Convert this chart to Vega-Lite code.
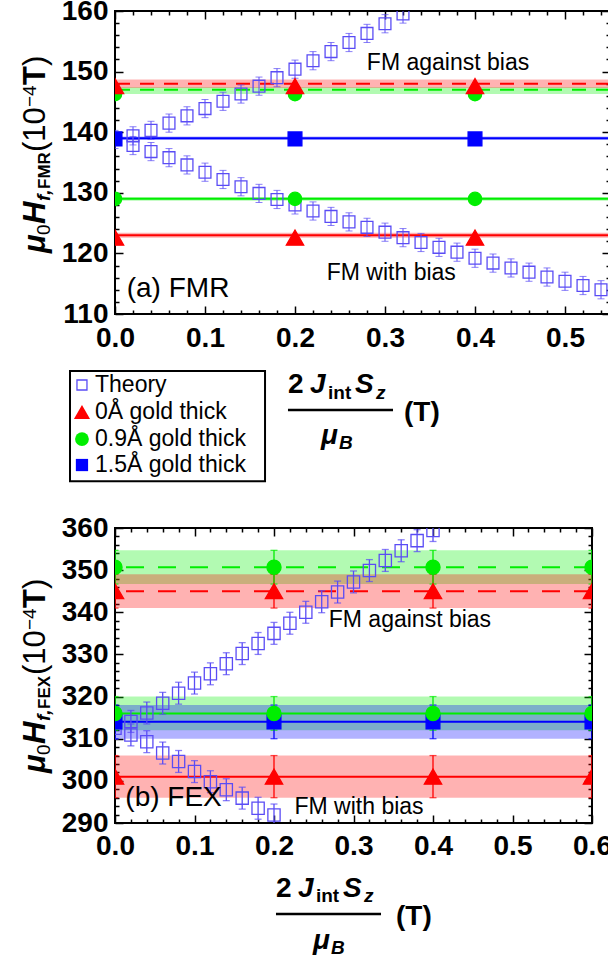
{
  "$schema": "https://vega.github.io/schema/vega-lite/v6.json",
  "padding": {"left": 18, "top": -4, "right": 0, "bottom": 0},
  "background": "white",
  "spacing": 214,
  "bounds": "flush",
  "config": {
    "view": {"stroke": "black", "strokeWidth": 2},
    "font": "Liberation Sans",
    "axis": {"domain": false, "grid": false, "tickColor": "black", "tickWidth": 1.5, "labelColor": "black", "labelFont": "Liberation Sans", "labelFontSize": 28, "labelFontWeight": "bold", "labelOverlap": false, "labelFlush": false, "labelBound": false},
    "text": {"color": "black", "font": "Liberation Sans"}
  },
  "datasets": {
    "levA": [
      {"series": "0.9Å gold thick", "kind": "against", "y": 147.0, "lo": 146.3, "hi": 147.4},
      {"series": "0Å gold thick", "kind": "against", "y": 148.0, "lo": 147.3, "hi": 148.7},
      {"series": "1.5Å gold thick", "kind": "with", "y": 139.0, "lo": 138.7, "hi": 139.3},
      {"series": "0.9Å gold thick", "kind": "with", "y": 129.0, "lo": 128.7, "hi": 129.3},
      {"series": "0Å gold thick", "kind": "with", "y": 123.0, "lo": 122.6, "hi": 123.4}
    ],
    "levB": [
      {"series": "0.9Å gold thick", "kind": "against", "y": 350.7, "lo": 346.7, "hi": 354.7},
      {"series": "0Å gold thick", "kind": "against", "y": 345.0, "lo": 341.0, "hi": 349.0},
      {"series": "0.9Å gold thick", "kind": "with", "y": 316.0, "lo": 312.0, "hi": 320.0},
      {"series": "1.5Å gold thick", "kind": "with", "y": 314.0, "lo": 310.0, "hi": 318.0},
      {"series": "0Å gold thick", "kind": "with", "y": 301.0, "lo": 296.0, "hi": 306.0}
    ],
    "ptsA": [
      {"series": "Theory", "x": 0, "y": 138.8, "err": 1.5},
      {"series": "Theory", "x": 0.02, "y": 139.4, "err": 1.5},
      {"series": "Theory", "x": 0.04, "y": 140.3, "err": 1.5},
      {"series": "Theory", "x": 0.06, "y": 141.5, "err": 1.5},
      {"series": "Theory", "x": 0.08, "y": 142.7, "err": 1.5},
      {"series": "Theory", "x": 0.1, "y": 143.9, "err": 1.5},
      {"series": "Theory", "x": 0.12, "y": 145.1, "err": 1.5},
      {"series": "Theory", "x": 0.14, "y": 146.3, "err": 1.5},
      {"series": "Theory", "x": 0.16, "y": 147.6, "err": 1.5},
      {"series": "Theory", "x": 0.18, "y": 149.0, "err": 1.5},
      {"series": "Theory", "x": 0.2, "y": 150.4, "err": 1.5},
      {"series": "Theory", "x": 0.22, "y": 151.8, "err": 1.5},
      {"series": "Theory", "x": 0.24, "y": 153.3, "err": 1.5},
      {"series": "Theory", "x": 0.26, "y": 154.8, "err": 1.5},
      {"series": "Theory", "x": 0.28, "y": 156.3, "err": 1.5},
      {"series": "Theory", "x": 0.3, "y": 157.9, "err": 1.5},
      {"series": "Theory", "x": 0.32, "y": 159.5, "err": 1.5},
      {"series": "Theory", "x": 0.02, "y": 137.8, "err": 1.5},
      {"series": "Theory", "x": 0.04, "y": 136.8, "err": 1.5},
      {"series": "Theory", "x": 0.06, "y": 135.8, "err": 1.5},
      {"series": "Theory", "x": 0.08, "y": 134.6, "err": 1.5},
      {"series": "Theory", "x": 0.1, "y": 133.4, "err": 1.5},
      {"series": "Theory", "x": 0.12, "y": 132.2, "err": 1.5},
      {"series": "Theory", "x": 0.14, "y": 131.0, "err": 1.5},
      {"series": "Theory", "x": 0.16, "y": 129.9, "err": 1.5},
      {"series": "Theory", "x": 0.18, "y": 128.9, "err": 1.5},
      {"series": "Theory", "x": 0.2, "y": 128.0, "err": 1.5},
      {"series": "Theory", "x": 0.22, "y": 127.0, "err": 1.5},
      {"series": "Theory", "x": 0.24, "y": 126.1, "err": 1.5},
      {"series": "Theory", "x": 0.26, "y": 125.2, "err": 1.5},
      {"series": "Theory", "x": 0.28, "y": 124.3, "err": 1.5},
      {"series": "Theory", "x": 0.3, "y": 123.5, "err": 1.5},
      {"series": "Theory", "x": 0.32, "y": 122.6, "err": 1.5},
      {"series": "Theory", "x": 0.34, "y": 121.8, "err": 1.5},
      {"series": "Theory", "x": 0.36, "y": 121.0, "err": 1.5},
      {"series": "Theory", "x": 0.38, "y": 120.2, "err": 1.5},
      {"series": "Theory", "x": 0.4, "y": 119.2, "err": 1.5},
      {"series": "Theory", "x": 0.42, "y": 118.4, "err": 1.5},
      {"series": "Theory", "x": 0.44, "y": 117.6, "err": 1.5},
      {"series": "Theory", "x": 0.46, "y": 116.9, "err": 1.5},
      {"series": "Theory", "x": 0.48, "y": 116.1, "err": 1.5},
      {"series": "Theory", "x": 0.5, "y": 115.4, "err": 1.5},
      {"series": "Theory", "x": 0.52, "y": 114.7, "err": 1.5},
      {"series": "Theory", "x": 0.54, "y": 114.0, "err": 1.5},
      {"series": "1.5Å gold thick", "x": 0, "y": 138.9, "err": 0},
      {"series": "1.5Å gold thick", "x": 0.2, "y": 138.9, "err": 0},
      {"series": "1.5Å gold thick", "x": 0.4, "y": 138.9, "err": 0},
      {"series": "0.9Å gold thick", "x": 0, "y": 146.3, "err": 0},
      {"series": "0.9Å gold thick", "x": 0.2, "y": 146.3, "err": 0},
      {"series": "0.9Å gold thick", "x": 0.4, "y": 146.3, "err": 0},
      {"series": "0.9Å gold thick", "x": 0, "y": 129.0, "err": 0},
      {"series": "0.9Å gold thick", "x": 0.2, "y": 129.0, "err": 0},
      {"series": "0.9Å gold thick", "x": 0.4, "y": 129.0, "err": 0},
      {"series": "0Å gold thick", "x": 0, "y": 147.6, "err": 0},
      {"series": "0Å gold thick", "x": 0.2, "y": 147.6, "err": 0},
      {"series": "0Å gold thick", "x": 0.4, "y": 147.6, "err": 0},
      {"series": "0Å gold thick", "x": 0, "y": 122.6, "err": 0},
      {"series": "0Å gold thick", "x": 0.2, "y": 122.6, "err": 0},
      {"series": "0Å gold thick", "x": 0.4, "y": 122.6, "err": 0}
    ],
    "ptsB": [
      {"series": "Theory", "x": 0, "y": 312.5, "err": 2.6},
      {"series": "Theory", "x": 0.02, "y": 314.1, "err": 2.6},
      {"series": "Theory", "x": 0.04, "y": 316.1, "err": 2.6},
      {"series": "Theory", "x": 0.06, "y": 318.4, "err": 2.6},
      {"series": "Theory", "x": 0.08, "y": 320.8, "err": 2.6},
      {"series": "Theory", "x": 0.1, "y": 323.2, "err": 2.6},
      {"series": "Theory", "x": 0.12, "y": 325.4, "err": 2.6},
      {"series": "Theory", "x": 0.14, "y": 327.8, "err": 2.6},
      {"series": "Theory", "x": 0.16, "y": 330.2, "err": 2.6},
      {"series": "Theory", "x": 0.18, "y": 332.6, "err": 2.6},
      {"series": "Theory", "x": 0.2, "y": 335.0, "err": 2.6},
      {"series": "Theory", "x": 0.22, "y": 337.4, "err": 2.6},
      {"series": "Theory", "x": 0.24, "y": 340.0, "err": 2.6},
      {"series": "Theory", "x": 0.26, "y": 342.5, "err": 2.6},
      {"series": "Theory", "x": 0.28, "y": 344.8, "err": 2.6},
      {"series": "Theory", "x": 0.3, "y": 347.2, "err": 2.6},
      {"series": "Theory", "x": 0.32, "y": 349.9, "err": 2.6},
      {"series": "Theory", "x": 0.34, "y": 352.3, "err": 2.6},
      {"series": "Theory", "x": 0.36, "y": 354.6, "err": 2.6},
      {"series": "Theory", "x": 0.38, "y": 357.0, "err": 2.6},
      {"series": "Theory", "x": 0.4, "y": 359.4, "err": 2.6},
      {"series": "Theory", "x": 0.02, "y": 310.9, "err": 2.6},
      {"series": "Theory", "x": 0.04, "y": 309.3, "err": 2.6},
      {"series": "Theory", "x": 0.06, "y": 306.6, "err": 2.6},
      {"series": "Theory", "x": 0.08, "y": 304.6, "err": 2.6},
      {"series": "Theory", "x": 0.1, "y": 302.2, "err": 2.6},
      {"series": "Theory", "x": 0.12, "y": 299.8, "err": 2.6},
      {"series": "Theory", "x": 0.14, "y": 297.9, "err": 2.6},
      {"series": "Theory", "x": 0.16, "y": 295.9, "err": 2.6},
      {"series": "Theory", "x": 0.18, "y": 293.5, "err": 2.6},
      {"series": "Theory", "x": 0.2, "y": 291.9, "err": 2.6},
      {"series": "1.5Å gold thick", "x": 0, "y": 314.0, "err": 4},
      {"series": "1.5Å gold thick", "x": 0.2, "y": 314.0, "err": 4},
      {"series": "1.5Å gold thick", "x": 0.4, "y": 314.0, "err": 4},
      {"series": "1.5Å gold thick", "x": 0.6, "y": 314.0, "err": 4},
      {"series": "0Å gold thick", "x": 0, "y": 345.0, "err": 4},
      {"series": "0Å gold thick", "x": 0.2, "y": 345.0, "err": 4},
      {"series": "0Å gold thick", "x": 0.4, "y": 345.0, "err": 4},
      {"series": "0Å gold thick", "x": 0.6, "y": 345.0, "err": 4},
      {"series": "0Å gold thick", "x": 0, "y": 301.0, "err": 5},
      {"series": "0Å gold thick", "x": 0.2, "y": 301.0, "err": 5},
      {"series": "0Å gold thick", "x": 0.4, "y": 301.0, "err": 5},
      {"series": "0Å gold thick", "x": 0.6, "y": 301.0, "err": 5},
      {"series": "0.9Å gold thick", "x": 0, "y": 350.7, "err": 4},
      {"series": "0.9Å gold thick", "x": 0.2, "y": 350.7, "err": 4},
      {"series": "0.9Å gold thick", "x": 0.4, "y": 350.7, "err": 4},
      {"series": "0.9Å gold thick", "x": 0.6, "y": 350.7, "err": 4},
      {"series": "0.9Å gold thick", "x": 0, "y": 316.0, "err": 4},
      {"series": "0.9Å gold thick", "x": 0.2, "y": 316.0, "err": 4},
      {"series": "0.9Å gold thick", "x": 0.4, "y": 316.0, "err": 4},
      {"series": "0.9Å gold thick", "x": 0.6, "y": 316.0, "err": 4}
    ]
  },
  "vconcat": [
    {
      "width": 495,
      "height": 303,
      "data": {"values": [{}]},
      "layer": [
        {"data": {"name": "levA"}, "mark": {"type": "rect", "opacity": 0.3},
         "encoding": {
           "y": {"field": "lo", "type": "quantitative", "scale": {"domain": [110, 160], "nice": false, "zero": false}, "axis": null},
           "y2": {"field": "hi"},
           "color": {"field": "series", "type": "nominal", "scale": {"domain": ["Theory", "0Å gold thick", "0.9Å gold thick", "1.5Å gold thick"], "range": ["#5a4cf5", "#ff0000", "#00ee00", "#0000ff"]}, "legend": null}}},
        {"data": {"name": "levA"}, "mark": {"type": "rule", "strokeWidth": 2},
         "encoding": {
           "y": {"field": "y", "type": "quantitative", "scale": {"domain": [110, 160], "nice": false, "zero": false}, "axis": null},
           "color": {"field": "series", "type": "nominal", "scale": {"domain": ["Theory", "0Å gold thick", "0.9Å gold thick", "1.5Å gold thick"], "range": ["#5a4cf5", "#ff0000", "#00ee00", "#0000ff"]}, "legend": null},
           "strokeDash": {"field": "kind", "type": "nominal", "scale": {"domain": ["against", "with"], "range": [[14, 10], [1, 0]]}, "legend": null}}},
        {"data": {"name": "ptsA"}, "transform": [{"filter": "datum.series === 'Theory'"}],
         "mark": {"type": "errorbar", "ticks": true, "size": 7, "thickness": 1, "color": "#5a4cf5", "clip": true},
         "encoding": {
           "x": {"field": "x", "type": "quantitative", "scale": {"domain": [0, 0.55], "nice": false, "zero": false}, "axis": null},
           "y": {"field": "y", "type": "quantitative", "scale": {"domain": [110, 160], "nice": false, "zero": false}, "axis": null},
           "yError": {"field": "err"}}},
        {"data": {"name": "ptsA"}, "mark": {"type": "point", "filled": true, "opacity": 1, "strokeWidth": 1.3, "clip": true},
         "encoding": {
           "x": {"field": "x", "type": "quantitative", "scale": {"domain": [0, 0.55], "nice": false, "zero": false},
                 "axis": {"orient": "bottom", "title": null, "values": [0, 0.02, 0.04, 0.06, 0.08, 0.1, 0.12, 0.14, 0.16, 0.18, 0.2, 0.22, 0.24, 0.26, 0.28, 0.3, 0.32, 0.34, 0.36, 0.38, 0.4, 0.42, 0.44, 0.46, 0.48, 0.5, 0.52, 0.54],
                          "labelExpr": "abs(datum.value*10-round(datum.value*10)) < 0.001 ? format(datum.value, '.1f') : ''",
                          "tickSize": {"condition": {"test": "abs(datum.value*10-round(datum.value*10)) < 0.001", "value": -8}, "value": -4},
                          "labelPadding": 18}},
           "y": {"field": "y", "type": "quantitative", "scale": {"domain": [110, 160], "nice": false, "zero": false},
                 "axis": {"orient": "left", "title": null, "values": [110, 112, 114, 116, 118, 120, 122, 124, 126, 128, 130, 132, 134, 136, 138, 140, 142, 144, 146, 148, 150, 152, 154, 156, 158, 160],
                          "labelExpr": "datum.value % 10 == 0 ? datum.label : ''",
                          "tickSize": {"condition": {"test": "datum.value % 10 == 0", "value": -8}, "value": -4},
                          "labelPadding": 15}},
           "shape": {"field": "series", "type": "nominal", "scale": {"domain": ["Theory", "0Å gold thick", "0.9Å gold thick", "1.5Å gold thick"], "range": ["square", "triangle-up", "circle", "square"]}, "legend": null},
           "fill": {"field": "series", "type": "nominal", "scale": {"domain": ["Theory", "0Å gold thick", "0.9Å gold thick", "1.5Å gold thick"], "range": ["transparent", "#ff0000", "#00ee00", "#0000ff"]}, "legend": null},
           "stroke": {"field": "series", "type": "nominal", "scale": {"domain": ["Theory", "0Å gold thick", "0.9Å gold thick", "1.5Å gold thick"], "range": ["#5a4cf5", "#ff0000", "#00ee00", "#0000ff"]}, "legend": null},
           "size": {"field": "series", "type": "nominal", "scale": {"type": "ordinal", "domain": ["Theory", "0Å gold thick", "0.9Å gold thick", "1.5Å gold thick"], "range": [140, 300, 180, 190]}, "legend": null}}},
        {"data": {"name": "ptsA"}, "mark": {"type": "point", "opacity": 0},
         "encoding": {
           "x": {"field": "x", "type": "quantitative", "scale": {"domain": [0, 0.55], "nice": false, "zero": false},
                 "axis": {"orient": "top", "title": null, "labels": false, "values": [0, 0.02, 0.04, 0.06, 0.08, 0.1, 0.12, 0.14, 0.16, 0.18, 0.2, 0.22, 0.24, 0.26, 0.28, 0.3, 0.32, 0.34, 0.36, 0.38, 0.4, 0.42, 0.44, 0.46, 0.48, 0.5, 0.52, 0.54],
                          "tickSize": {"condition": {"test": "abs(datum.value*10-round(datum.value*10)) < 0.001", "value": -8}, "value": -4}}},
           "y": {"field": "y", "type": "quantitative", "scale": {"domain": [110, 160], "nice": false, "zero": false},
                 "axis": {"orient": "right", "title": null, "labels": false, "values": [110, 112, 114, 116, 118, 120, 122, 124, 126, 128, 130, 132, 134, 136, 138, 140, 142, 144, 146, 148, 150, 152, 154, 156, 158, 160],
                          "tickSize": {"condition": {"test": "datum.value % 10 == 0", "value": -8}, "value": -4}}}}},
        {"mark": {"type": "rect", "fill": "white", "stroke": "black", "strokeWidth": 2},
         "encoding": {"x": {"datum": -0.05, "type": "quantitative", "scale": {"domain": [0, 0.55]}, "axis": null}, "x2": {"datum": 0.1667},
                      "y": {"datum": 100.6, "type": "quantitative", "scale": {"domain": [110, 160]}, "axis": null}, "y2": {"datum": 82.4}}},
        {"mark": {"type": "point", "shape": "square", "size": 100, "filled": false, "stroke": "#5a4cf5", "strokeWidth": 1.3, "opacity": 1},
         "encoding": {"x": {"datum": -0.0367, "type": "quantitative", "scale": {"domain": [0, 0.55]}, "axis": null}, "y": {"datum": 98.28, "type": "quantitative", "scale": {"domain": [110, 160]}, "axis": null}}},
        {"mark": {"type": "point", "shape": "triangle-up", "size": 260, "filled": true, "color": "#ff0000", "opacity": 1},
         "encoding": {"x": {"datum": -0.0367, "type": "quantitative", "scale": {"domain": [0, 0.55]}, "axis": null}, "y": {"datum": 93.83, "type": "quantitative", "scale": {"domain": [110, 160]}, "axis": null}}},
        {"mark": {"type": "point", "shape": "circle", "size": 190, "filled": true, "color": "#00ee00", "opacity": 1},
         "encoding": {"x": {"datum": -0.0367, "type": "quantitative", "scale": {"domain": [0, 0.55]}, "axis": null}, "y": {"datum": 89.37, "type": "quantitative", "scale": {"domain": [110, 160]}, "axis": null}}},
        {"mark": {"type": "point", "shape": "square", "size": 150, "filled": true, "color": "#0000ff", "opacity": 1},
         "encoding": {"x": {"datum": -0.0367, "type": "quantitative", "scale": {"domain": [0, 0.55]}, "axis": null}, "y": {"datum": 85.08, "type": "quantitative", "scale": {"domain": [110, 160]}, "axis": null}}},
        {"mark": {"type": "text", "text": "Theory", "fontSize": 23, "align": "left", "baseline": "middle"},
         "encoding": {"x": {"datum": -0.0222, "type": "quantitative", "scale": {"domain": [0, 0.55]}, "axis": null}, "y": {"datum": 98.28, "type": "quantitative", "scale": {"domain": [110, 160]}, "axis": null}}},
        {"mark": {"type": "text", "text": "0Å gold thick", "fontSize": 23, "align": "left", "baseline": "middle"},
         "encoding": {"x": {"datum": -0.0222, "type": "quantitative", "scale": {"domain": [0, 0.55]}, "axis": null}, "y": {"datum": 93.83, "type": "quantitative", "scale": {"domain": [110, 160]}, "axis": null}}},
        {"mark": {"type": "text", "text": "0.9Å gold thick", "fontSize": 23, "align": "left", "baseline": "middle"},
         "encoding": {"x": {"datum": -0.0222, "type": "quantitative", "scale": {"domain": [0, 0.55]}, "axis": null}, "y": {"datum": 89.37, "type": "quantitative", "scale": {"domain": [110, 160]}, "axis": null}}},
        {"mark": {"type": "text", "text": "1.5Å gold thick", "fontSize": 23, "align": "left", "baseline": "middle"},
         "encoding": {"x": {"datum": -0.0222, "type": "quantitative", "scale": {"domain": [0, 0.55]}, "axis": null}, "y": {"datum": 85.08, "type": "quantitative", "scale": {"domain": [110, 160]}, "axis": null}}},
        {"mark": {"type": "text", "text": "FM against bias", "fontSize": 23, "align": "center", "baseline": "middle"},
         "encoding": {"x": {"datum": 0.37, "type": "quantitative", "scale": {"domain": [0, 0.55]}, "axis": null}, "y": {"datum": 151.5, "type": "quantitative", "scale": {"domain": [110, 160]}, "axis": null}}},
        {"mark": {"type": "text", "text": "FM with bias", "fontSize": 23, "align": "center", "baseline": "middle"},
         "encoding": {"x": {"datum": 0.307, "type": "quantitative", "scale": {"domain": [0, 0.55]}, "axis": null}, "y": {"datum": 116.8, "type": "quantitative", "scale": {"domain": [110, 160]}, "axis": null}}},
        {"mark": {"type": "text", "text": "(a) FMR", "fontSize": 28, "align": "left", "baseline": "middle"},
         "encoding": {"x": {"datum": 0.013, "type": "quantitative", "scale": {"domain": [0, 0.55]}, "axis": null}, "y": {"datum": 114.1, "type": "quantitative", "scale": {"domain": [110, 160]}, "axis": null}}},
        {"mark": {"type": "text", "text": "μ", "fontSize": 31, "fontWeight": "bold", "fontStyle": "italic", "angle": 270, "align": "left", "baseline": "alphabetic"},
         "encoding": {"x": {"datum": -0.0778, "type": "quantitative", "scale": {"domain": [0, 0.55]}, "axis": null}, "y": {"datum": 120.07, "type": "quantitative", "scale": {"domain": [110, 160]}, "axis": null}}},
        {"mark": {"type": "text", "text": "0", "fontSize": 19, "angle": 270, "align": "left", "baseline": "alphabetic"},
         "encoding": {"x": {"datum": -0.0722, "type": "quantitative", "scale": {"domain": [0, 0.55]}, "axis": null}, "y": {"datum": 123.04, "type": "quantitative", "scale": {"domain": [110, 160]}, "axis": null}}},
        {"mark": {"type": "text", "text": "H", "fontSize": 31, "fontWeight": "bold", "fontStyle": "italic", "angle": 270, "align": "left", "baseline": "alphabetic"},
         "encoding": {"x": {"datum": -0.0778, "type": "quantitative", "scale": {"domain": [0, 0.55]}, "axis": null}, "y": {"datum": 124.85, "type": "quantitative", "scale": {"domain": [110, 160]}, "axis": null}}},
        {"mark": {"type": "text", "text": "f,", "fontSize": 19, "fontWeight": "bold", "fontStyle": "italic", "angle": 270, "align": "left", "baseline": "alphabetic"},
         "encoding": {"x": {"datum": -0.0722, "type": "quantitative", "scale": {"domain": [0, 0.55]}, "axis": null}, "y": {"datum": 128.65, "type": "quantitative", "scale": {"domain": [110, 160]}, "axis": null}}},
        {"mark": {"type": "text", "text": "FMR", "fontSize": 17, "fontWeight": "bold", "angle": 270, "align": "left", "baseline": "alphabetic"},
         "encoding": {"x": {"datum": -0.0722, "type": "quantitative", "scale": {"domain": [0, 0.55]}, "axis": null}, "y": {"datum": 130.63, "type": "quantitative", "scale": {"domain": [110, 160]}, "axis": null}}},
        {"mark": {"type": "text", "text": "(10", "fontSize": 31, "angle": 270, "align": "left", "baseline": "alphabetic"},
         "encoding": {"x": {"datum": -0.0778, "type": "quantitative", "scale": {"domain": [0, 0.55]}, "axis": null}, "y": {"datum": 136.73, "type": "quantitative", "scale": {"domain": [110, 160]}, "axis": null}}},
        {"mark": {"type": "text", "text": "−4", "fontSize": 19, "angle": 270, "align": "left", "baseline": "alphabetic"},
         "encoding": {"x": {"datum": -0.0878, "type": "quantitative", "scale": {"domain": [0, 0.55]}, "axis": null}, "y": {"datum": 144.16, "type": "quantitative", "scale": {"domain": [110, 160]}, "axis": null}}},
        {"mark": {"type": "text", "text": "T", "fontSize": 31, "fontWeight": "bold", "angle": 270, "align": "left", "baseline": "alphabetic"},
         "encoding": {"x": {"datum": -0.0778, "type": "quantitative", "scale": {"domain": [0, 0.55]}, "axis": null}, "y": {"datum": 147.79, "type": "quantitative", "scale": {"domain": [110, 160]}, "axis": null}}},
        {"mark": {"type": "text", "text": ")", "fontSize": 31, "angle": 270, "align": "left", "baseline": "alphabetic"},
         "encoding": {"x": {"datum": -0.0778, "type": "quantitative", "scale": {"domain": [0, 0.55]}, "axis": null}, "y": {"datum": 150.92, "type": "quantitative", "scale": {"domain": [110, 160]}, "axis": null}}},
        {"mark": {"type": "text", "text": "2", "fontSize": 28, "fontWeight": "bold", "align": "left", "baseline": "alphabetic"},
         "encoding": {"x": {"datum": 0.1922, "type": "quantitative", "scale": {"domain": [0, 0.55]}, "axis": null}, "y": {"datum": 96.96, "type": "quantitative", "scale": {"domain": [110, 160]}, "axis": null}}},
        {"mark": {"type": "text", "text": "J", "fontSize": 28, "fontWeight": "bold", "fontStyle": "italic", "align": "left", "baseline": "alphabetic"},
         "encoding": {"x": {"datum": 0.2167, "type": "quantitative", "scale": {"domain": [0, 0.55]}, "axis": null}, "y": {"datum": 96.96, "type": "quantitative", "scale": {"domain": [110, 160]}, "axis": null}}},
        {"mark": {"type": "text", "text": "int", "fontSize": 19, "fontWeight": "bold", "align": "left", "baseline": "alphabetic"},
         "encoding": {"x": {"datum": 0.2367, "type": "quantitative", "scale": {"domain": [0, 0.55]}, "axis": null}, "y": {"datum": 95.97, "type": "quantitative", "scale": {"domain": [110, 160]}, "axis": null}}},
        {"mark": {"type": "text", "text": "S", "fontSize": 28, "fontWeight": "bold", "fontStyle": "italic", "align": "left", "baseline": "alphabetic"},
         "encoding": {"x": {"datum": 0.2667, "type": "quantitative", "scale": {"domain": [0, 0.55]}, "axis": null}, "y": {"datum": 96.96, "type": "quantitative", "scale": {"domain": [110, 160]}, "axis": null}}},
        {"mark": {"type": "text", "text": "z", "fontSize": 19, "fontWeight": "bold", "fontStyle": "italic", "align": "left", "baseline": "alphabetic"},
         "encoding": {"x": {"datum": 0.29, "type": "quantitative", "scale": {"domain": [0, 0.55]}, "axis": null}, "y": {"datum": 95.97, "type": "quantitative", "scale": {"domain": [110, 160]}, "axis": null}}},
        {"mark": {"type": "rule", "strokeWidth": 2.5, "color": "black"},
         "encoding": {"x": {"datum": 0.1922, "type": "quantitative", "scale": {"domain": [0, 0.55]}, "axis": null}, "x2": {"datum": 0.3089}, "y": {"datum": 94.16, "type": "quantitative", "scale": {"domain": [110, 160]}, "axis": null}}},
        {"mark": {"type": "text", "text": "μ", "fontSize": 28, "fontWeight": "bold", "fontStyle": "italic", "align": "left", "baseline": "alphabetic"},
         "encoding": {"x": {"datum": 0.2289, "type": "quantitative", "scale": {"domain": [0, 0.55]}, "axis": null}, "y": {"datum": 88.55, "type": "quantitative", "scale": {"domain": [110, 160]}, "axis": null}}},
        {"mark": {"type": "text", "text": "B", "fontSize": 19, "fontWeight": "bold", "fontStyle": "italic", "align": "left", "baseline": "alphabetic"},
         "encoding": {"x": {"datum": 0.2489, "type": "quantitative", "scale": {"domain": [0, 0.55]}, "axis": null}, "y": {"datum": 87.72, "type": "quantitative", "scale": {"domain": [110, 160]}, "axis": null}}},
        {"mark": {"type": "text", "text": "(T)", "fontSize": 28, "fontWeight": "bold", "align": "left", "baseline": "alphabetic"},
         "encoding": {"x": {"datum": 0.3211, "type": "quantitative", "scale": {"domain": [0, 0.55]}, "axis": null}, "y": {"datum": 92.34, "type": "quantitative", "scale": {"domain": [110, 160]}, "axis": null}}}
      ],
      "resolve": {"axis": {"x": "independent", "y": "independent"}}
    },
    {
      "width": 477,
      "height": 295,
      "data": {"values": [{}]},
      "layer": [
        {"data": {"name": "levB"}, "mark": {"type": "rect", "opacity": 0.3},
         "encoding": {
           "y": {"field": "lo", "type": "quantitative", "scale": {"domain": [290, 360], "nice": false, "zero": false}, "axis": null},
           "y2": {"field": "hi"},
           "color": {"field": "series", "type": "nominal", "scale": {"domain": ["Theory", "0Å gold thick", "0.9Å gold thick", "1.5Å gold thick"], "range": ["#5a4cf5", "#ff0000", "#00ee00", "#0000ff"]}, "legend": null}}},
        {"data": {"name": "levB"}, "mark": {"type": "rule", "strokeWidth": 2},
         "encoding": {
           "y": {"field": "y", "type": "quantitative", "scale": {"domain": [290, 360], "nice": false, "zero": false}, "axis": null},
           "color": {"field": "series", "type": "nominal", "scale": {"domain": ["Theory", "0Å gold thick", "0.9Å gold thick", "1.5Å gold thick"], "range": ["#5a4cf5", "#ff0000", "#00ee00", "#0000ff"]}, "legend": null},
           "strokeDash": {"field": "kind", "type": "nominal", "scale": {"domain": ["against", "with"], "range": [[18, 14], [1, 0]]}, "legend": null}}},
        {"data": {"name": "ptsB"},
         "mark": {"type": "errorbar", "ticks": true, "size": 7, "thickness": 1.3, "clip": true},
         "encoding": {
           "x": {"field": "x", "type": "quantitative", "scale": {"domain": [0, 0.6], "nice": false, "zero": false}, "axis": null},
           "y": {"field": "y", "type": "quantitative", "scale": {"domain": [290, 360], "nice": false, "zero": false}, "axis": null},
           "yError": {"field": "err"},
           "color": {"field": "series", "type": "nominal", "scale": {"domain": ["Theory", "0Å gold thick", "0.9Å gold thick", "1.5Å gold thick"], "range": ["#5a4cf5", "#ff0000", "#00ee00", "#0000ff"]}, "legend": null}}},
        {"data": {"name": "ptsB"}, "mark": {"type": "point", "filled": true, "opacity": 1, "strokeWidth": 1.3, "clip": true},
         "encoding": {
           "x": {"field": "x", "type": "quantitative", "scale": {"domain": [0, 0.6], "nice": false, "zero": false},
                 "axis": {"orient": "bottom", "title": null, "values": [0, 0.02, 0.04, 0.06, 0.08, 0.1, 0.12, 0.14, 0.16, 0.18, 0.2, 0.22, 0.24, 0.26, 0.28, 0.3, 0.32, 0.34, 0.36, 0.38, 0.4, 0.42, 0.44, 0.46, 0.48, 0.5, 0.52, 0.54, 0.56, 0.58, 0.6],
                          "labelExpr": "abs(datum.value*10-round(datum.value*10)) < 0.001 ? format(datum.value, '.1f') : ''",
                          "tickSize": {"condition": {"test": "abs(datum.value*10-round(datum.value*10)) < 0.001", "value": -8}, "value": -4},
                          "labelPadding": 17}},
           "y": {"field": "y", "type": "quantitative", "scale": {"domain": [290, 360], "nice": false, "zero": false},
                 "axis": {"orient": "left", "title": null, "values": [290, 292, 294, 296, 298, 300, 302, 304, 306, 308, 310, 312, 314, 316, 318, 320, 322, 324, 326, 328, 330, 332, 334, 336, 338, 340, 342, 344, 346, 348, 350, 352, 354, 356, 358, 360],
                          "labelExpr": "datum.value % 10 == 0 ? datum.label : ''",
                          "tickSize": {"condition": {"test": "datum.value % 10 == 0", "value": -8}, "value": -4},
                          "labelPadding": 15}},
           "shape": {"field": "series", "type": "nominal", "scale": {"domain": ["Theory", "0Å gold thick", "0.9Å gold thick", "1.5Å gold thick"], "range": ["square", "triangle-up", "circle", "square"]}, "legend": null},
           "fill": {"field": "series", "type": "nominal", "scale": {"domain": ["Theory", "0Å gold thick", "0.9Å gold thick", "1.5Å gold thick"], "range": ["transparent", "#ff0000", "#00ee00", "#0000ff"]}, "legend": null},
           "stroke": {"field": "series", "type": "nominal", "scale": {"domain": ["Theory", "0Å gold thick", "0.9Å gold thick", "1.5Å gold thick"], "range": ["#5a4cf5", "#ff0000", "#00ee00", "#0000ff"]}, "legend": null},
           "size": {"field": "series", "type": "nominal", "scale": {"type": "ordinal", "domain": ["Theory", "0Å gold thick", "0.9Å gold thick", "1.5Å gold thick"], "range": [150, 300, 200, 190]}, "legend": null}}},
        {"data": {"name": "ptsB"}, "mark": {"type": "point", "opacity": 0},
         "encoding": {
           "x": {"field": "x", "type": "quantitative", "scale": {"domain": [0, 0.6], "nice": false, "zero": false},
                 "axis": {"orient": "top", "title": null, "labels": false, "values": [0, 0.02, 0.04, 0.06, 0.08, 0.1, 0.12, 0.14, 0.16, 0.18, 0.2, 0.22, 0.24, 0.26, 0.28, 0.3, 0.32, 0.34, 0.36, 0.38, 0.4, 0.42, 0.44, 0.46, 0.48, 0.5, 0.52, 0.54, 0.56, 0.58, 0.6],
                          "tickSize": {"condition": {"test": "abs(datum.value*10-round(datum.value*10)) < 0.001", "value": -8}, "value": -4}}},
           "y": {"field": "y", "type": "quantitative", "scale": {"domain": [290, 360], "nice": false, "zero": false},
                 "axis": {"orient": "right", "title": null, "labels": false, "values": [290, 292, 294, 296, 298, 300, 302, 304, 306, 308, 310, 312, 314, 316, 318, 320, 322, 324, 326, 328, 330, 332, 334, 336, 338, 340, 342, 344, 346, 348, 350, 352, 354, 356, 358, 360],
                          "tickSize": {"condition": {"test": "datum.value % 10 == 0", "value": -8}, "value": -4}}}}},
        {"mark": {"type": "text", "text": "FM against bias", "fontSize": 23, "align": "center", "baseline": "middle"},
         "encoding": {"x": {"datum": 0.371, "type": "quantitative", "scale": {"domain": [0, 0.6]}, "axis": null}, "y": {"datum": 338.2, "type": "quantitative", "scale": {"domain": [290, 360]}, "axis": null}}},
        {"mark": {"type": "text", "text": "FM with bias", "fontSize": 23, "align": "center", "baseline": "middle"},
         "encoding": {"x": {"datum": 0.307, "type": "quantitative", "scale": {"domain": [0, 0.6]}, "axis": null}, "y": {"datum": 293.9, "type": "quantitative", "scale": {"domain": [290, 360]}, "axis": null}}},
        {"mark": {"type": "text", "text": "(b) FEX", "fontSize": 28, "align": "left", "baseline": "middle"},
         "encoding": {"x": {"datum": 0.013, "type": "quantitative", "scale": {"domain": [0, 0.6]}, "axis": null}, "y": {"datum": 295.9, "type": "quantitative", "scale": {"domain": [290, 360]}, "axis": null}}},
        {"mark": {"type": "text", "text": "μ", "fontSize": 31, "fontWeight": "bold", "fontStyle": "italic", "angle": 270, "align": "left", "baseline": "alphabetic"},
         "encoding": {"x": {"datum": -0.0881, "type": "quantitative", "scale": {"domain": [0, 0.6]}, "axis": null}, "y": {"datum": 301.86, "type": "quantitative", "scale": {"domain": [290, 360]}, "axis": null}}},
        {"mark": {"type": "text", "text": "0", "fontSize": 19, "angle": 270, "align": "left", "baseline": "alphabetic"},
         "encoding": {"x": {"datum": -0.0818, "type": "quantitative", "scale": {"domain": [0, 0.6]}, "axis": null}, "y": {"datum": 306.13, "type": "quantitative", "scale": {"domain": [290, 360]}, "axis": null}}},
        {"mark": {"type": "text", "text": "H", "fontSize": 31, "fontWeight": "bold", "fontStyle": "italic", "angle": 270, "align": "left", "baseline": "alphabetic"},
         "encoding": {"x": {"datum": -0.0881, "type": "quantitative", "scale": {"domain": [0, 0.6]}, "axis": null}, "y": {"datum": 308.74, "type": "quantitative", "scale": {"domain": [290, 360]}, "axis": null}}},
        {"mark": {"type": "text", "text": "f,", "fontSize": 19, "fontWeight": "bold", "fontStyle": "italic", "angle": 270, "align": "left", "baseline": "alphabetic"},
         "encoding": {"x": {"datum": -0.0818, "type": "quantitative", "scale": {"domain": [0, 0.6]}, "axis": null}, "y": {"datum": 314.2, "type": "quantitative", "scale": {"domain": [290, 360]}, "axis": null}}},
        {"mark": {"type": "text", "text": "FEX", "fontSize": 17, "fontWeight": "bold", "angle": 270, "align": "left", "baseline": "alphabetic"},
         "encoding": {"x": {"datum": -0.0818, "type": "quantitative", "scale": {"domain": [0, 0.6]}, "axis": null}, "y": {"datum": 317.05, "type": "quantitative", "scale": {"domain": [290, 360]}, "axis": null}}},
        {"mark": {"type": "text", "text": "(10", "fontSize": 31, "angle": 270, "align": "left", "baseline": "alphabetic"},
         "encoding": {"x": {"datum": -0.0881, "type": "quantitative", "scale": {"domain": [0, 0.6]}, "axis": null}, "y": {"datum": 325.12, "type": "quantitative", "scale": {"domain": [290, 360]}, "axis": null}}},
        {"mark": {"type": "text", "text": "−4", "fontSize": 19, "angle": 270, "align": "left", "baseline": "alphabetic"},
         "encoding": {"x": {"datum": -0.0994, "type": "quantitative", "scale": {"domain": [0, 0.6]}, "axis": null}, "y": {"datum": 335.8, "type": "quantitative", "scale": {"domain": [290, 360]}, "axis": null}}},
        {"mark": {"type": "text", "text": "T", "fontSize": 31, "fontWeight": "bold", "angle": 270, "align": "left", "baseline": "alphabetic"},
         "encoding": {"x": {"datum": -0.0881, "type": "quantitative", "scale": {"domain": [0, 0.6]}, "axis": null}, "y": {"datum": 341.02, "type": "quantitative", "scale": {"domain": [290, 360]}, "axis": null}}},
        {"mark": {"type": "text", "text": ")", "fontSize": 31, "angle": 270, "align": "left", "baseline": "alphabetic"},
         "encoding": {"x": {"datum": -0.0881, "type": "quantitative", "scale": {"domain": [0, 0.6]}, "axis": null}, "y": {"datum": 345.52, "type": "quantitative", "scale": {"domain": [290, 360]}, "axis": null}}},
        {"mark": {"type": "text", "text": "2", "fontSize": 28, "fontWeight": "bold", "align": "left", "baseline": "alphabetic"},
         "encoding": {"x": {"datum": 0.2025, "type": "quantitative", "scale": {"domain": [0, 0.6]}, "axis": null}, "y": {"datum": 272.5, "type": "quantitative", "scale": {"domain": [290, 360]}, "axis": null}}},
        {"mark": {"type": "text", "text": "J", "fontSize": 28, "fontWeight": "bold", "fontStyle": "italic", "align": "left", "baseline": "alphabetic"},
         "encoding": {"x": {"datum": 0.2302, "type": "quantitative", "scale": {"domain": [0, 0.6]}, "axis": null}, "y": {"datum": 272.5, "type": "quantitative", "scale": {"domain": [290, 360]}, "axis": null}}},
        {"mark": {"type": "text", "text": "int", "fontSize": 19, "fontWeight": "bold", "align": "left", "baseline": "alphabetic"},
         "encoding": {"x": {"datum": 0.2528, "type": "quantitative", "scale": {"domain": [0, 0.6]}, "axis": null}, "y": {"datum": 271.3, "type": "quantitative", "scale": {"domain": [290, 360]}, "axis": null}}},
        {"mark": {"type": "text", "text": "S", "fontSize": 28, "fontWeight": "bold", "fontStyle": "italic", "align": "left", "baseline": "alphabetic"},
         "encoding": {"x": {"datum": 0.2868, "type": "quantitative", "scale": {"domain": [0, 0.6]}, "axis": null}, "y": {"datum": 272.5, "type": "quantitative", "scale": {"domain": [290, 360]}, "axis": null}}},
        {"mark": {"type": "text", "text": "z", "fontSize": 19, "fontWeight": "bold", "fontStyle": "italic", "align": "left", "baseline": "alphabetic"},
         "encoding": {"x": {"datum": 0.3132, "type": "quantitative", "scale": {"domain": [0, 0.6]}, "axis": null}, "y": {"datum": 271.3, "type": "quantitative", "scale": {"domain": [290, 360]}, "axis": null}}},
        {"mark": {"type": "rule", "strokeWidth": 2.5, "color": "black"},
         "encoding": {"x": {"datum": 0.2025, "type": "quantitative", "scale": {"domain": [0, 0.6]}, "axis": null}, "x2": {"datum": 0.3346}, "y": {"datum": 268.4, "type": "quantitative", "scale": {"domain": [290, 360]}, "axis": null}}},
        {"mark": {"type": "text", "text": "μ", "fontSize": 28, "fontWeight": "bold", "fontStyle": "italic", "align": "left", "baseline": "alphabetic"},
         "encoding": {"x": {"datum": 0.2491, "type": "quantitative", "scale": {"domain": [0, 0.6]}, "axis": null}, "y": {"datum": 260.09, "type": "quantitative", "scale": {"domain": [290, 360]}, "axis": null}}},
        {"mark": {"type": "text", "text": "B", "fontSize": 19, "fontWeight": "bold", "fontStyle": "italic", "align": "left", "baseline": "alphabetic"},
         "encoding": {"x": {"datum": 0.2717, "type": "quantitative", "scale": {"domain": [0, 0.6]}, "axis": null}, "y": {"datum": 258.91, "type": "quantitative", "scale": {"domain": [290, 360]}, "axis": null}}},
        {"mark": {"type": "text", "text": "(T)", "fontSize": 28, "fontWeight": "bold", "align": "left", "baseline": "alphabetic"},
         "encoding": {"x": {"datum": 0.3535, "type": "quantitative", "scale": {"domain": [0, 0.6]}, "axis": null}, "y": {"datum": 265.79, "type": "quantitative", "scale": {"domain": [290, 360]}, "axis": null}}}
      ],
      "resolve": {"axis": {"x": "independent", "y": "independent"}}
    }
  ],
  "resolve": {"scale": {"color": "independent", "fill": "independent", "stroke": "independent", "shape": "independent", "size": "independent", "strokeDash": "independent"}}
}
